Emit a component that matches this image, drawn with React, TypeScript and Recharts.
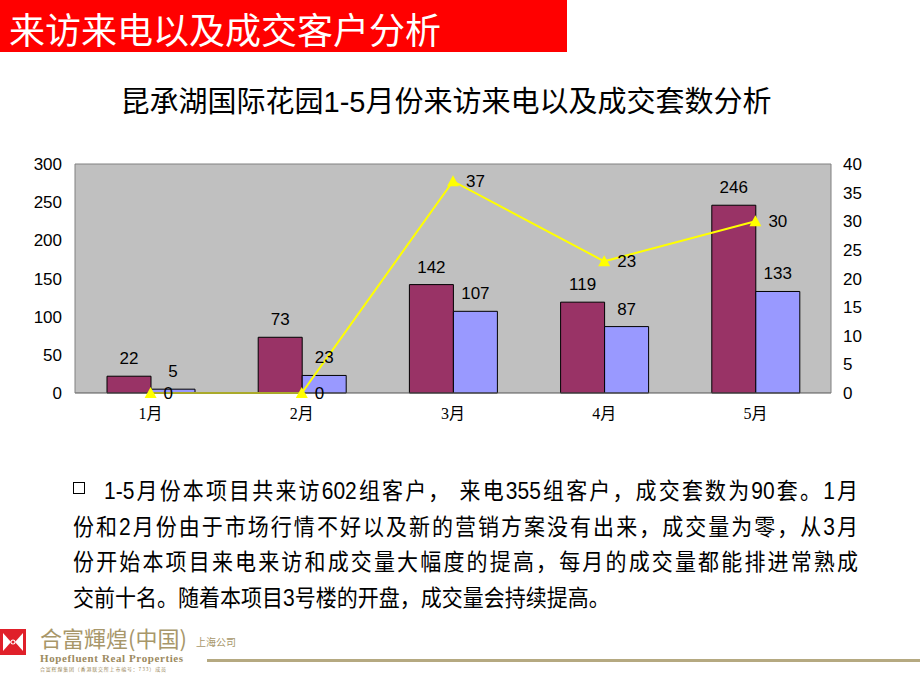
import React from "react";
import {
  ComposedChart,
  Bar,
  Line,
  XAxis,
  YAxis,
  CartesianGrid,
  ReferenceLine,
  LabelList,
} from "recharts";

const months = ["1月", "2月", "3月", "4月", "5月"];
const visits = [22, 73, 142, 119, 246];
const calls = [5, 23, 107, 87, 133];
const deals = [0, 0, 37, 23, 30];
const leftTicks = [0, 50, 100, 150, 200, 250, 300];
const rightTicks = [0, 5, 10, 15, 20, 25, 30, 35, 40];

const bodyLines = [
  "1-5月份本项目共来访602组客户， 来电355组客户，成交套数为90套。1月",
  "份和2月份由于市场行情不好以及新的营销方案没有出来，成交量为零，从3月",
  "份开始本项目来电来访和成交量大幅度的提高，每月的成交量都能排进常熟成",
  "交前十名。随着本项目3号楼的开盘，成交量会持续提高。",
];

const data = months.map((m, i) => ({
  month: m,
  visits: visits[i],
  calls: calls[i],
  deals: deals[i],
}));

const SANS = '"Liberation Sans", Arial, "Noto Sans CJK SC", sans-serif';
const SERIF = '"Liberation Serif", "Times New Roman", "Noto Sans CJK SC", serif';

function TriangleDot(props: any) {
  const { cx, cy, index } = props;
  if (cx == null || cy == null) return null;
  return (
    <polygon
      key={`tri-${index}`}
      points={`${cx},${cy - 6} ${cx - 6},${cy + 5} ${cx + 6},${cy + 5}`}
      fill="#FFFF00"
    />
  );
}

function Logo() {
  return (
    <svg width={26} height={26} viewBox="0 0 26 26">
      <rect x={0} y={0} width={26} height={26} fill="#E0202A" />
      <polygon points="3,4 3,22 11,13" fill="#ffffff" />
      <polygon points="23,4 23,22 15,13" fill="#ffffff" />
      <circle cx={13} cy={13} r={2.5} fill="#ffffff" />
      <circle cx={13} cy={13} r={1.5} fill="#E0202A" />
    </svg>
  );
}

export default function App() {
  return (
    <div
      style={{
        position: "absolute",
        left: 0,
        top: 0,
        width: 920,
        height: 690,
        background: "#ffffff",
        overflow: "hidden",
        fontFamily: SANS,
      }}
    >
      {/* header bar */}
      <div
        style={{
          position: "absolute",
          left: 0,
          top: 0,
          width: 567,
          height: 52,
          background: "#FF0000",
        }}
      />
      <div
        style={{
          position: "absolute",
          left: 9,
          top: 8,
          fontSize: 36,
          lineHeight: "40px",
          color: "#ffffff",
          fontFamily: '"Noto Sans CJK SC", sans-serif',
          whiteSpace: "nowrap",
        }}
      >
        来访来电以及成交客户分析
      </div>

      {/* chart title */}
      <div
        style={{
          position: "absolute",
          left: 0,
          width: 892,
          top: 84,
          textAlign: "center",
          fontSize: 29,
          lineHeight: "36px",
          color: "#000",
          fontFamily: SANS,
          whiteSpace: "nowrap",
        }}
      >
        昆承湖国际花园1-5月份来访来电以及成交套数分析
      </div>

      <div style={{ position: "absolute", left: 0, top: 150 }}>
        <ComposedChart
          width={920}
          height={290}
          data={data}
          margin={{ top: 14, right: 39, bottom: 7, left: 15 }}
          barCategoryGap={32}
          barGap={0}
        >
          <CartesianGrid
            yAxisId="left"
            fill="#C0C0C0"
            horizontal={false}
            vertical={false}
          />
          <XAxis
            dataKey="month"
            height={40}
            tickLine={false}
            tickSize={6}
            tickMargin={9}
            axisLine={{ stroke: "#555" }}
            tick={{ fontSize: 16, fill: "#000", fontFamily: SERIF }}
            interval={0}
          />
          <YAxis
            yAxisId="left"
            orientation="left"
            width={60}
            domain={[0, 300]}
            ticks={leftTicks}
            interval={0}
            tickLine={false}
            tickSize={6}
            tickMargin={7}
            axisLine={{ stroke: "#808080" }}
            tick={{ fontSize: 17, fill: "#000", fontFamily: SANS }}
          />
          <YAxis
            yAxisId="right"
            orientation="right"
            width={50}
            domain={[0, 40]}
            ticks={rightTicks}
            interval={0}
            tickLine={false}
            tickSize={6}
            tickMargin={6}
            axisLine={{ stroke: "#808080" }}
            tick={{ fontSize: 17, fill: "#000", fontFamily: SANS, textAnchor: "start" }}
          />
          <ReferenceLine yAxisId="left" y={300} stroke="#808080" />
          <Bar
            yAxisId="left"
            dataKey="visits"
            fill="#993366"
            stroke="#000"
            strokeWidth={1}
            isAnimationActive={false}
          >
            <LabelList
              dataKey="visits"
              position="top"
              offset={12}
              fill="#000"
              fontSize={17}
              fontFamily={SANS}
            />
          </Bar>
          <Bar
            yAxisId="left"
            dataKey="calls"
            fill="#9999FF"
            stroke="#000"
            strokeWidth={1}
            isAnimationActive={false}
          >
            <LabelList
              dataKey="calls"
              position="top"
              offset={12}
              fill="#000"
              fontSize={17}
              fontFamily={SANS}
            />
          </Bar>
          <Line
            yAxisId="right"
            dataKey="deals"
            type="linear"
            stroke="#FFFF00"
            strokeWidth={2}
            dot={<TriangleDot />}
            activeDot={false}
            isAnimationActive={false}
          >
            <LabelList
              dataKey="deals"
              position="right"
              offset={13}
              fill="#000"
              fontSize={17}
              fontFamily={SANS}
            />
          </Line>
        </ComposedChart>
      </div>

      {/* body text */}
      <div
        style={{
          position: "absolute",
          left: 73,
          top: 482,
          width: 12,
          height: 12,
          border: "1px solid #000",
          boxSizing: "border-box",
        }}
      />
      {bodyLines.map((line, i) => (
        <div
          key={i}
          style={{
            position: "absolute",
            left: i === 0 ? 104 : 73,
            width: i === 0 ? 754 : 785,
            top: 474 + i * 35.5,
            fontSize: 21,
            lineHeight: "32px",
            color: "#000",
            whiteSpace: "nowrap",
            textAlign: "justify",
            textAlignLast: i === bodyLines.length - 1 ? "left" : "justify",
            transform: "scaleY(1.1)",
            transformOrigin: "top left",
            fontFamily: '"Liberation Sans Narrow", "Liberation Sans", "Noto Sans CJK SC", sans-serif',
          }}
        >
          {line}
        </div>
      ))}

      {/* footer */}
      <div style={{ position: "absolute", left: 0, top: 629 }}>
        <Logo />
      </div>
      <div
        style={{
          position: "absolute",
          left: 40,
          top: 623,
          fontSize: 22,
          lineHeight: "28px",
          color: "#A8976A",
          fontFamily: '"Noto Sans CJK SC", sans-serif',
          whiteSpace: "nowrap",
        }}
      >
        合富輝煌(中国)
      </div>
      <div
        style={{
          position: "absolute",
          left: 196,
          top: 636,
          fontSize: 10,
          lineHeight: "12px",
          color: "#A8976A",
          fontFamily: '"Noto Sans CJK SC", sans-serif',
          whiteSpace: "nowrap",
        }}
      >
        上海公司
      </div>
      <div
        style={{
          position: "absolute",
          left: 40,
          top: 652,
          fontSize: 11,
          lineHeight: "12px",
          fontWeight: "bold",
          color: "#9C8A60",
          fontFamily: SERIF,
          whiteSpace: "nowrap",
          letterSpacing: 0.6,
        }}
      >
        Hopefluent Real Properties
      </div>
      <div
        style={{
          position: "absolute",
          left: 40,
          top: 665,
          fontSize: 5,
          lineHeight: "7px",
          color: "#9C8A60",
          fontFamily: '"Noto Sans CJK SC", sans-serif',
          whiteSpace: "nowrap",
          letterSpacing: 0.8,
        }}
      >
        合富辉煌集团（香港联交所上市编号：733）成员
      </div>
      <div
        style={{
          position: "absolute",
          left: 207,
          top: 659,
          width: 713,
          height: 3,
          background: "#B5A981",
        }}
      />
    </div>
  );
}
